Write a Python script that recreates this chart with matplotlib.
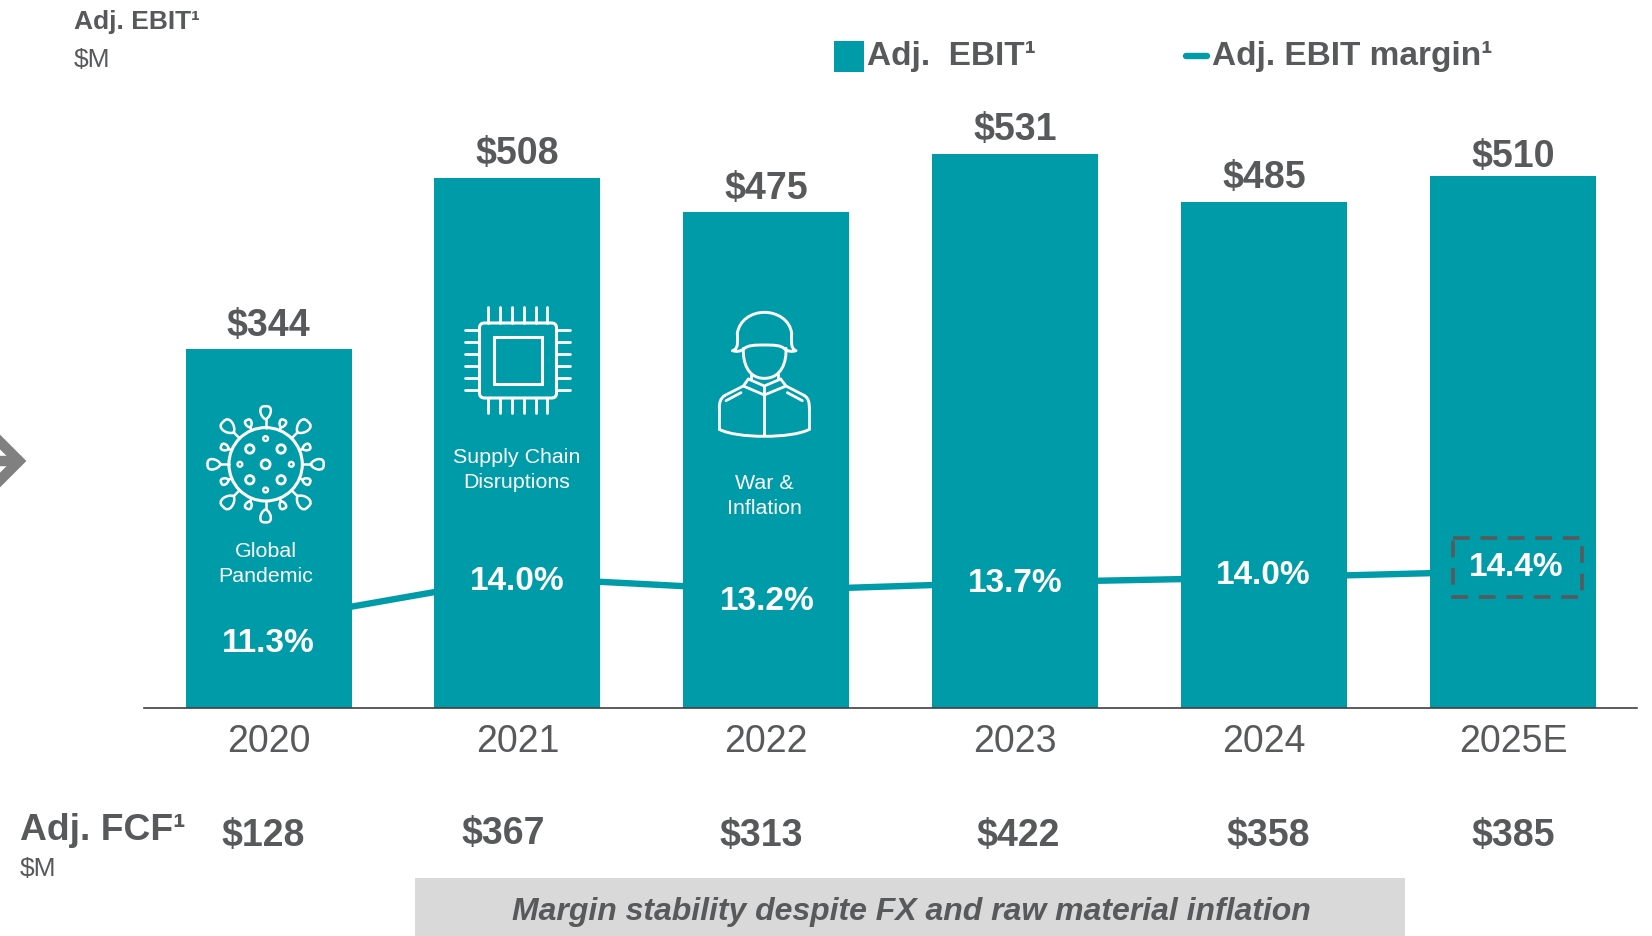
import numpy as np
import matplotlib
matplotlib.use("Agg")
import matplotlib.pyplot as plt
from matplotlib.lines import Line2D
from matplotlib.patches import Circle, FancyBboxPatch, PathPatch, Rectangle
from matplotlib.path import Path
from matplotlib.transforms import Affine2D

years = ["2020", "2021", "2022", "2023", "2024", "2025E"]
ebit = [344, 508, 475, 531, 485, 510]
margin = [11.3, 14.0, 13.2, 13.7, 14.0, 14.4]
fcf = [128, 367, 313, 422, 358, 385]
event_labels = ["Global\nPandemic", "Supply Chain\nDisruptions", "War &\nInflation"]

TEAL = "#009BA9"
GRAY = "#58595B"
W, H = 1652, 936
plt.rcParams["font.family"] = ["Liberation Sans", "DejaVu Sans"]

fig = plt.figure(figsize=(W / 100, H / 100), dpi=100, facecolor="white")
ax = fig.add_axes([0, 0, 1, 1])
ax2 = ax.twinx()
ax.set_zorder(2)
ax2.set_zorder(1)
ax.patch.set_visible(False)

px = Affine2D().scale(1 / W, -1 / H).translate(0, 1) + fig.transFigure
x = np.arange(len(years))
PITCH, X0 = 248.9, 268.5
YS, Y0 = 1.044, 708
ax.set_xlim(-X0 / PITCH, (W - X0) / PITCH)
ax.set_ylim(-(H - Y0) / YS, Y0 / YS)
MS, M14 = 16.2, 577.5
ax2.set_ylim(14 - (H - M14) / MS, 14 + M14 / MS)

bars = ax.bar(x, ebit, width=166 / PITCH, color=TEAL, label="Adj.  EBIT¹", zorder=2)
line, = ax2.plot(x, margin, color=TEAL, lw=4.6, solid_capstyle="round", label="Adj. EBIT margin¹")
ax2.axis("off")

for s in ("top", "left", "right"):
    ax.spines[s].set_visible(False)
ax.spines["bottom"].set_position(("data", 0))
ax.spines["bottom"].set_bounds(-0.5, 5.5)
ax.spines["bottom"].set_color("#404040")
ax.spines["bottom"].set_linewidth(1.2)
ax.spines["bottom"].set_zorder(5)
ax.set_yticks([])
ax.set_xticks(x, years)
ax.tick_params(axis="x", length=0, pad=11.5, labelsize=27, labelcolor=GRAY)

ebit_label_gap = [9.5, 10, 9.5, 9.5, 10, 6]
for i, v, g in zip(x, ebit, ebit_label_gap):
    ax.annotate(f"${v}", (i, v), xytext=(0, g), textcoords="offset points",
                ha="center", va="baseline", fontsize=27, fontweight="bold", color=GRAY)

def T(xp, yp, s, **kw):
    kw.setdefault("ha", "center")
    kw.setdefault("va", "center")
    kw.setdefault("zorder", 6)
    return ax.text(xp, yp, s, transform=px, clip_on=False, **kw)

margin_label_px = [(268, 643), (517, 582), (767, 602), (1015, 584), (1263, 576), (1516, 568)]
for (xp, yp), v in zip(margin_label_px, margin):
    T(xp, yp, f"{v:.1f}%", fontsize=24, fontweight="bold", color="white")

event_label_px = [(265.5, 564), (517, 470), (764, 496)]
for (xp, yp), s in zip(event_label_px, event_labels):
    T(xp, yp, s, fontsize=15.4, color="white", linespacing=1.45)

fcf_label_px = [(263, 836), (503, 834), (761, 836), (1018, 836), (1268, 836), (1513, 836)]
for (xp, yp), v in zip(fcf_label_px, fcf):
    T(xp, yp, f"${v}", fontsize=27, fontweight="bold", color=GRAY)

T(74, 22, "Adj. EBIT¹", ha="left", fontsize=19, fontweight="bold", color=GRAY)
T(74, 60, "$M", ha="left", fontsize=19, color=GRAY)
T(20, 831, "Adj. FCF¹", ha="left", fontsize=26.8, fontweight="bold", color=GRAY)
T(20, 869, "$M", ha="left", fontsize=19, color=GRAY)

ax.add_patch(Rectangle((415, 877.5), 990, 58.5, transform=px, fc="#D9D9D9", ec="none", clip_on=False, zorder=3))
T(911, 912, "Margin stability despite FX and raw material inflation", fontsize=23.05,
  fontweight="bold", fontstyle="italic", color=GRAY)

leg = fig.legend(handles=[bars, line], labels=["Adj.  EBIT¹", "Adj. EBIT margin¹"], ncols=2, frameon=False,
                 loc="upper left", bbox_to_anchor=(834 / W, 1 - 39 / H), bbox_transform=fig.transFigure,
                 borderpad=0, borderaxespad=0, fontsize=24, handlelength=0.9, handleheight=0.93,
                 handletextpad=0.1, columnspacing=4.28, labelcolor=GRAY,
                 prop={"weight": "bold", "size": 24})
rect_h, line_h = leg.legend_handles
rect_h.set_y(rect_h.get_y() - 3.4)
rect_h.set_height(22.0)
xd = np.asarray(line_h.get_xdata(), dtype=float)
yd = np.asarray(line_h.get_ydata(), dtype=float)
line_h.set_data([xd[0] + 5.5, xd[-1] - 1.5], [yd[0] - 3.0, yd[-1] - 3.0])

# dashed call-out
ax.add_patch(Rectangle((1453, 538), 129, 59, transform=px, fc="none", ec=GRAY, lw=2.6,
                       ls=(0, (4.6, 3)), clip_on=False, zorder=5))

# left arrow
for xs, ys in [([-11, 19, -11], [431, 461, 491]), ([-6, 16], [461, 461])]:
    ax.add_line(Line2D(xs, ys, transform=px, color="#808080", lw=7.5, clip_on=False, zorder=3,
                       solid_joinstyle="miter"))

WHITE = dict(color="white", lw=2.0, zorder=5, clip_on=False)
def L(xs, ys, tr=px, **kw):
    style = {**WHITE, **kw}
    ax.add_line(Line2D(xs, ys, transform=tr, solid_capstyle="round", solid_joinstyle="round", **style))

def ring(cx, cy, r, lw=2.0):
    ax.add_patch(Circle((cx, cy), r, transform=px, fc="none", ec="white", lw=lw, zorder=5, clip_on=False))

# virus icon
VX, VY, VR = 265.6, 464.3, 36.7
ring(VX, VY, VR, lw=2.2)
def spike(theta, tip, length):
    c, s = np.cos(theta), np.sin(theta)
    L([VX + VR * c, VX + tip * c], [VY + VR * s, VY + tip * s], lw=1.8)
    P = [(0, 0), (.2, .45), (1.1, .62), (1, 0), (1.1, -.62), (.2, -.45), (0, 0)]
    pts = [(VX + (tip + length * u) * c - length * w * s, VY + (tip + length * u) * s + length * w * c) for u, w in P]
    codes = [Path.MOVETO] + [Path.CURVE4] * 6
    ax.add_patch(PathPatch(Path(pts, codes), transform=px, fc="none", ec="white", lw=1.8, zorder=5, clip_on=False))
for k in range(8):
    th = k * np.pi / 4
    if k % 2:
        spike(th, 45, 15)
    else:
        spike(th, 45, 13)
    spike(th + np.pi / 8, 40, 8)
ring(VX, VY, 4.5)
for dx, dy in [(-15.8, -15.3), (15.5, -15.3), (-15.8, 15.5), (15.5, 15.5)]:
    ring(VX + dx, VY + dy, 4.2)
for dx, dy in [(0, -25.7), (0, 25.7), (-25.7, 0), (25.7, 0)]:
    ring(VX + dx, VY + dy, 2.4, lw=1.7)

# chip icon
ax.add_patch(FancyBboxPatch((482, 325.5), 72, 70, boxstyle="round,pad=2.5,rounding_size=5", transform=px,
                            fc="none", ec="white", lw=2.2, zorder=5, clip_on=False))
ax.add_patch(Rectangle((494, 337), 47.5, 47, transform=px, fc="none", ec="white", lw=2.2, zorder=5, clip_on=False))
for xp in [488, 500, 512, 524, 535.6, 547.4]:
    L([xp, xp], [307, 322.5]); L([xp, xp], [398, 413])
for yp in [330, 342.3, 354, 366, 378, 390]:
    L([465, 479], [yp, yp]); L([556.5, 569.5], [yp, yp])

# soldier icon (drawn on a 3x grid offset to its place)
sol = Affine2D().scale(1 / 3).translate(660, 280) + px
def curve(pts, lw=2.1):
    codes = [Path.MOVETO] + [Path.CURVE4] * (len(pts) - 1)
    ax.add_patch(PathPatch(Path(pts, codes), transform=sol, fc="none", ec="white", lw=lw, zorder=5, clip_on=False,
                           joinstyle="round", capstyle="round"))
curve([(218, 212), (238, 205), (232, 180), (232, 160), (238, 120), (275, 97), (313, 97),
       (352, 97), (390, 120), (395, 160), (395, 180), (390, 205), (408, 212),
       (395, 216), (385, 214), (375, 208), (365, 195), (340, 195), (313, 195),
       (285, 195), (262, 195), (250, 208), (240, 214), (230, 216), (218, 212)])
curve([(250, 205), (248, 245), (262, 295), (313, 295), (365, 295), (380, 245), (378, 205)])
L([272, 272], [282, 298], sol); L([355, 355], [282, 298], sol)
L([265, 250, 195], [297, 318, 346], sol); L([362, 378, 432], [297, 318, 346], sol)
L([250, 313, 378], [318, 345, 318], sol)
L([265, 313, 362], [297, 318, 297], sol)
L([313, 313], [318, 466], sol)
L([198, 243], [362, 338], sol); L([382, 427], [338, 362], sol)
curve([(195, 346), (180, 355), (178, 370), (178, 385)])
curve([(432, 346), (447, 355), (448, 370), (448, 385)])
L([178, 178], [385, 448], sol); L([448, 448], [385, 448], sol)
curve([(178, 448), (230, 476), (396, 476), (448, 448)])

fig.savefig("out.png", dpi=100)
